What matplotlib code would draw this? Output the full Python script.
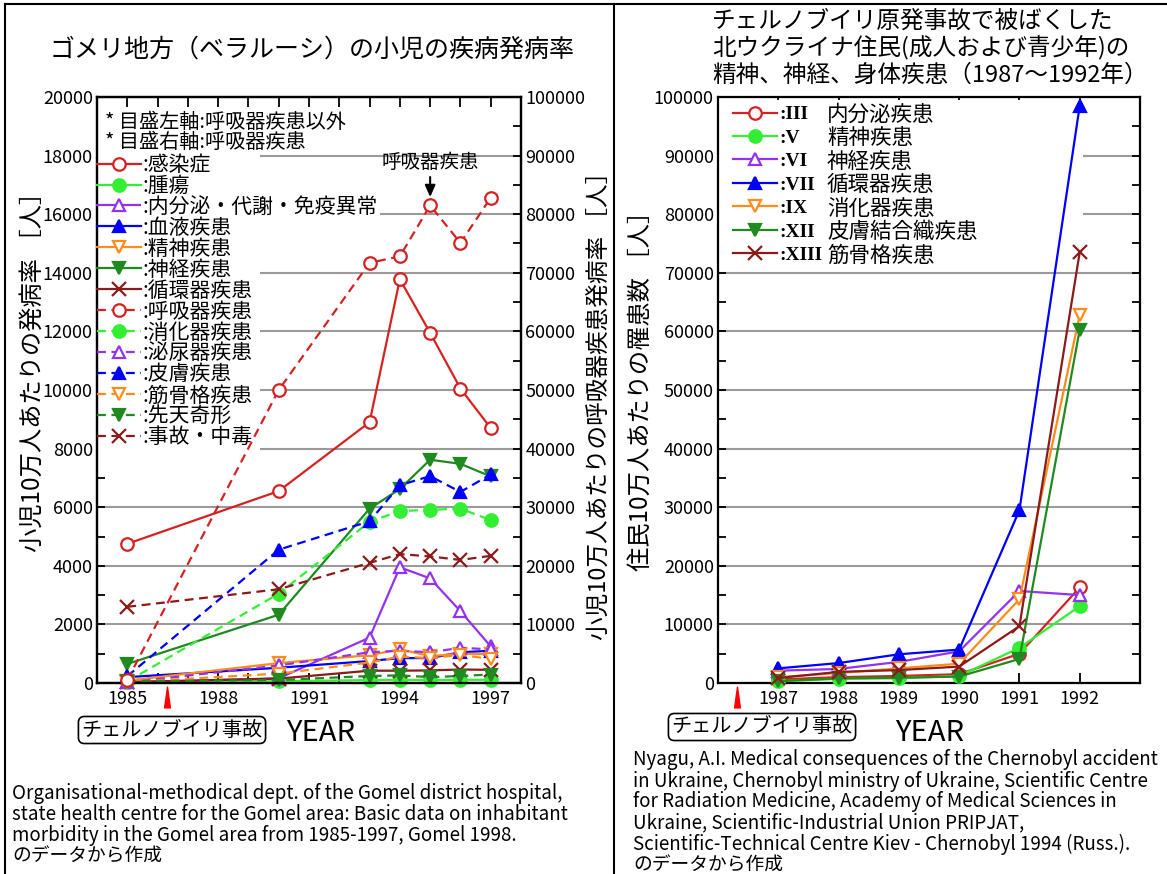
import matplotlib
matplotlib.use('Agg')
import matplotlib.pyplot as plt
from matplotlib.ticker import MultipleLocator, FixedLocator
from matplotlib.patches import Rectangle
from matplotlib.path import Path
from matplotlib.lines import Line2D
from matplotlib import transforms

plt.rcParams['font.family'] = ['Noto Sans CJK JP', 'DejaVu Sans']
plt.rcParams.update({'axes.linewidth': 1.6,
                     'xtick.labelsize': 13,
                     'ytick.labelsize': 13})

# ---- left chart: Gomel district, children (per 100,000) ----
YEARS_L = [1985, 1990, 1993, 1994, 1995, 1996, 1997]
LEFT_LABELS = ['感染症', '腫瘍', '内分泌・代謝・免疫異常', '血液疾患', '精神疾患',
               '神経疾患', '循環器疾患', '呼吸器疾患', '消化器疾患', '泌尿器疾患',
               '皮膚疾患', '筋骨格疾患', '先天奇形', '事故・中毒']
infection   = [4750, 6550, 8900, 13780, 11950, 10050, 8700]
tumor       = [50, 60, 100, 110, 100, 110, 110]
endocrine   = [20, 160, 1550, 3950, 3570, 2450, 1250]
blood       = [200, 520, 750, 850, 850, 1050, 1100]
mental      = [80, 680, 950, 1150, 920, 1000, 980]
nervous     = [650, 2330, 5950, 6620, 7620, 7480, 7050]
circulatory = [30, 150, 420, 420, 430, 460, 450]
respiratory = [500, 50000, 71700, 72800, 81500, 75100, 82800]   # right axis
digestive   = [50, 3050, 5500, 5870, 5910, 5950, 5560]
urinary     = [20, 600, 1050, 1100, 1050, 1200, 1150]
skin        = [230, 4550, 5520, 6750, 7060, 6520, 7120]
musculo     = [30, 320, 700, 900, 850, 960, 820]
congenital  = [60, 100, 240, 260, 200, 240, 290]
accident    = [2600, 3200, 4100, 4400, 4320, 4200, 4340]
LEFT_VALUES = [infection, tumor, endocrine, blood, mental, nervous, circulatory,
               respiratory, digestive, urinary, skin, musculo, congenital, accident]
RESP_INDEX = 7

# ---- right chart: northern Ukraine residents (per 100,000) ----
YEARS_R = [1987, 1988, 1989, 1990, 1991, 1992]
RIGHT_NUMS = ['III', 'V', 'VI', 'VII', 'IX', 'XII', 'XIII']
RIGHT_NAMES = ['内分泌疾患', '精神疾患', '神経疾患', '循環器疾患', '消化器疾患',
               '皮膚結合織疾患', '筋骨格疾患']
r_endocrine = [600, 1000, 1200, 1500, 5000, 16300]
r_mental    = [300, 700, 800, 1200, 6000, 13100]
r_nervous   = [2100, 2400, 3600, 5400, 15700, 15000]
r_circ      = [2500, 3400, 4900, 5700, 29500, 98500]
r_digestive = [1000, 1700, 2500, 3300, 14300, 62800]
r_skin      = [300, 800, 900, 1100, 4100, 60300]
r_musculo   = [850, 1900, 2200, 2800, 9700, 73500]
RIGHT_VALUES = [r_endocrine, r_mental, r_nervous, r_circ, r_digestive, r_skin, r_musculo]

CHERNOBYL = 1986.32

LEFT_CITE = ['Organisational-methodical dept. of the Gomel district hospital,',
             'state health centre for the Gomel area: Basic data on inhabitant',
             'morbidity in the Gomel area from 1985-1997, Gomel 1998.',
             'のデータから作成']
RIGHT_CITE = ['Nyagu, A.I. Medical consequences of the Chernobyl accident',
              'in Ukraine, Chernobyl ministry of Ukraine, Scientific Centre',
              'for Radiation Medicine, Academy of Medical Sciences in',
              'Ukraine, Scientific-Industrial Union PRIPJAT,',
              'Scientific-Technical Centre Kiev - Chernobyl 1994 (Russ.).',
              'のデータから作成']

# styles (cycle of 7 colours / markers)
COLORS = ['#d42222', '#33ee33', '#9433ee', '#0000ff', '#ff8c1a', '#1f8a1f', '#8b1a1a']
MARKERS = ['o', 'o', '^', '^', 'v', 'v', 'x']
FILLED = [False, True, False, True, False, True, True]
DASH = (0, (4, 2.5))
GRID_C = '#9a9a9a'

# tall narrow triangle for the accident marker
TRI = Path([(-0.28, -1), (0.28, -1), (0, 1), (-0.28, -1)],
           [Path.MOVETO, Path.LINETO, Path.LINETO, Path.CLOSEPOLY])


def style(i):
  c = COLORS[i % 7]
  kw = dict(color=c, lw=1.6, marker=MARKERS[i % 7], ms=9, mew=1.6, mec=c,
            mfc=c if FILLED[i % 7] else 'white')
  if MARKERS[i % 7] == 'x':
    kw['ms'] = 10
  return kw


fig = plt.figure(figsize=(11.67, 8.74), dpi=100)

def fx(px):
  return px / 1167

def fy(px):
  return 1 - px / 874

# ================= left chart =================
ax = fig.add_axes([fx(97), fy(683), fx(424), 586/874])
ax2 = ax.twinx()

handles = []
for i, (lab, vals) in enumerate(zip(LEFT_LABELS, LEFT_VALUES)):
  kw = style(i)
  if i >= 7:
    kw['ls'] = DASH
  target = ax2 if i == RESP_INDEX else ax
  h, = target.plot(YEARS_L, vals, clip_on=False, zorder=3, **kw)
  handles.append(h)

ax.set_xlim(1984, 1998)
ax.set_ylim(0, 20000)
ax2.set_ylim(0, 100000)
ax.xaxis.set_major_locator(FixedLocator([1985, 1988, 1991, 1994, 1997]))
ax.xaxis.set_minor_locator(MultipleLocator(1))
ax.yaxis.set_major_locator(MultipleLocator(2000))
ax.yaxis.set_minor_locator(MultipleLocator(1000))
ax2.yaxis.set_major_locator(MultipleLocator(10000))
ax2.yaxis.set_minor_locator(MultipleLocator(5000))
ax.tick_params(axis='x', which='both', direction='in', top=True, length=7, width=1.3, pad=5)
ax.tick_params(axis='y', which='both', direction='in', length=6, width=1.3, pad=3)
ax2.tick_params(axis='y', which='both', direction='in', length=6, width=1.3, pad=3)
ax.grid(axis='y', which='major', color=GRID_C, lw=1.5)
ax.set_axisbelow(True)

# white area behind the legend hides the grid
ax.add_patch(Rectangle((0, 0.395), 0.385, 0.58, transform=ax.transAxes,
                       facecolor='white', edgecolor='none', zorder=1))

ax.text(0.02, 0.957, '* 目盛左軸:呼吸器疾患以外', transform=ax.transAxes, fontsize=14.5, va='center')
ax.text(0.02, 0.923, '* 目盛右軸:呼吸器疾患', transform=ax.transAxes, fontsize=14.5, va='center')

leg = ax2.legend(handles, [':' + s for s in LEFT_LABELS], loc='upper left',
                 bbox_to_anchor=(0.0, 0.903), frameon=False, fontsize=15,
                 handlelength=2.1, handletextpad=0.1, labelspacing=-0.05,
                 borderaxespad=0, borderpad=0.0)
leg.get_texts()[2].set_bbox(dict(facecolor='white', edgecolor='none', pad=1))

ax2.annotate('呼吸器疾患', xy=(YEARS_L[4], respiratory[4]), xytext=(0, 31),
             textcoords='offset points', ha='center', va='center', fontsize=14,
             arrowprops=dict(arrowstyle='-|>,head_length=0.5,head_width=0.22',
                             color='black', lw=1.5, shrinkA=1, shrinkB=6,
                             mutation_scale=14))

fig.text(fx(33), fy(366), '小児10万人あたりの発病率 ［人］', rotation=90,
         ha='center', va='center', fontsize=17.5)
fig.text(fx(599), fy(400), '小児10万人あたりの呼吸器疾患発病率 ［人］', rotation=90,
         ha='center', va='center', fontsize=17)

tri_tr = transforms.offset_copy(ax.get_xaxis_transform(), fig=fig, y=-14, units='dots')
ax.plot([CHERNOBYL], [0], transform=tri_tr, marker=TRI, ms=15, color='red',
        mec='red', clip_on=False, ls='none')

fig.text(fx(172), fy(730), 'チェルノブイリ事故', ha='center', va='center', fontsize=14.5,
         bbox=dict(boxstyle='round,pad=0.15,rounding_size=0.3', facecolor='white',
                   edgecolor='black', lw=1.2))
fig.text(fx(321), fy(733), 'YEAR', ha='center', va='center', fontsize=21)
fig.text(fx(312), fy(50), 'ゴメリ地方（ベラルーシ）の小児の疾病発病率',
         ha='center', va='center', fontsize=18)

for k, line in enumerate(LEFT_CITE):
  fig.text(fx(12), fy(793 + 21*k), line, ha='left', va='center', fontsize=13.5)

# ================= right chart =================
ax3 = fig.add_axes([fx(718), fy(683), fx(422), 586/874])
rh = []
for i, vals in enumerate(RIGHT_VALUES):
  h, = ax3.plot(YEARS_R, vals, clip_on=False, zorder=3, **style(i))
  rh.append(h)

ax3.set_xlim(1986, 1993)
ax3.set_ylim(0, 100000)
yrs_all = list(range(1986, 1994))
ax3.set_xticks(yrs_all)
ax3.set_xticklabels([str(y) if y in YEARS_R else '' for y in yrs_all])
ax3.yaxis.set_major_locator(MultipleLocator(10000))
ax3.yaxis.set_minor_locator(MultipleLocator(5000))
ax3.tick_params(axis='x', which='both', direction='in', top=True, length=7, width=1.3, pad=5)
ax3.tick_params(axis='y', which='both', direction='in', right=True, length=6, width=1.3, pad=3)
ax3.grid(axis='y', which='major', color=GRID_C, lw=1.5)
ax3.set_axisbelow(True)

ax3.add_patch(Rectangle((0, 0.712), 0.865, 0.283, transform=ax3.transAxes,
                        facecolor='white', edgecolor='none', zorder=1))

leg3 = ax3.legend(rh, [':' + n for n in RIGHT_NUMS], loc='upper left',
                  bbox_to_anchor=(0.035, 0.985), frameon=False,
                  prop=dict(family='Liberation Serif', weight='bold', size=14),
                  handlelength=2.3, handletextpad=0.1, labelspacing=0.3,
                  borderaxespad=0, borderpad=0.0)

# disease names in a second column, aligned with the legend rows
fig.canvas.draw()
renderer = fig.canvas.get_renderer()
for t, name in zip(leg3.get_texts(), RIGHT_NAMES):
  bb = t.get_window_extent(renderer)
  yc = (bb.y0 + bb.y1) / 2 / fig.bbox.height
  fig.text(fx(827), yc, name, ha='left', va='center', fontsize=15.5)

fig.text(fx(641), fy(385), '住民10万人あたりの罹患数 ［人］', rotation=90,
         ha='center', va='center', fontsize=17.5)

tri_tr3 = transforms.offset_copy(ax3.get_xaxis_transform(), fig=fig, y=-14, units='dots')
ax3.plot([CHERNOBYL], [0], transform=tri_tr3, marker=TRI, ms=15, color='red',
         mec='red', clip_on=False, ls='none')

fig.text(fx(762), fy(727), 'チェルノブイリ事故', ha='center', va='center', fontsize=14.5,
         bbox=dict(boxstyle='round,pad=0.15,rounding_size=0.3', facecolor='white',
                   edgecolor='black', lw=1.2))
fig.text(fx(930), fy(733), 'YEAR', ha='center', va='center', fontsize=21)

TITLE_R = ['チェルノブイリ原発事故で被ばくした',
           '北ウクライナ住民(成人および青少年)の',
           '精神、神経、身体疾患（1987～1992年）']
for k, line in enumerate(TITLE_R):
  fig.text(fx(712), fy(21 + 27*k), line, ha='left', va='center', fontsize=17)

for k, line in enumerate(RIGHT_CITE):
  fig.text(fx(633), fy(760 + 21*k), line, ha='left', va='center', fontsize=13.5)

# outer frame and divider
for xs, ys in [([5, 1167], [4, 4]), ([5, 5], [4, 874]), ([614, 614], [4, 874])]:
  fig.add_artist(Line2D([fx(x) for x in xs], [fy(y) for y in ys], color='black', lw=1.5))

fig.savefig('out.png', dpi=100)
